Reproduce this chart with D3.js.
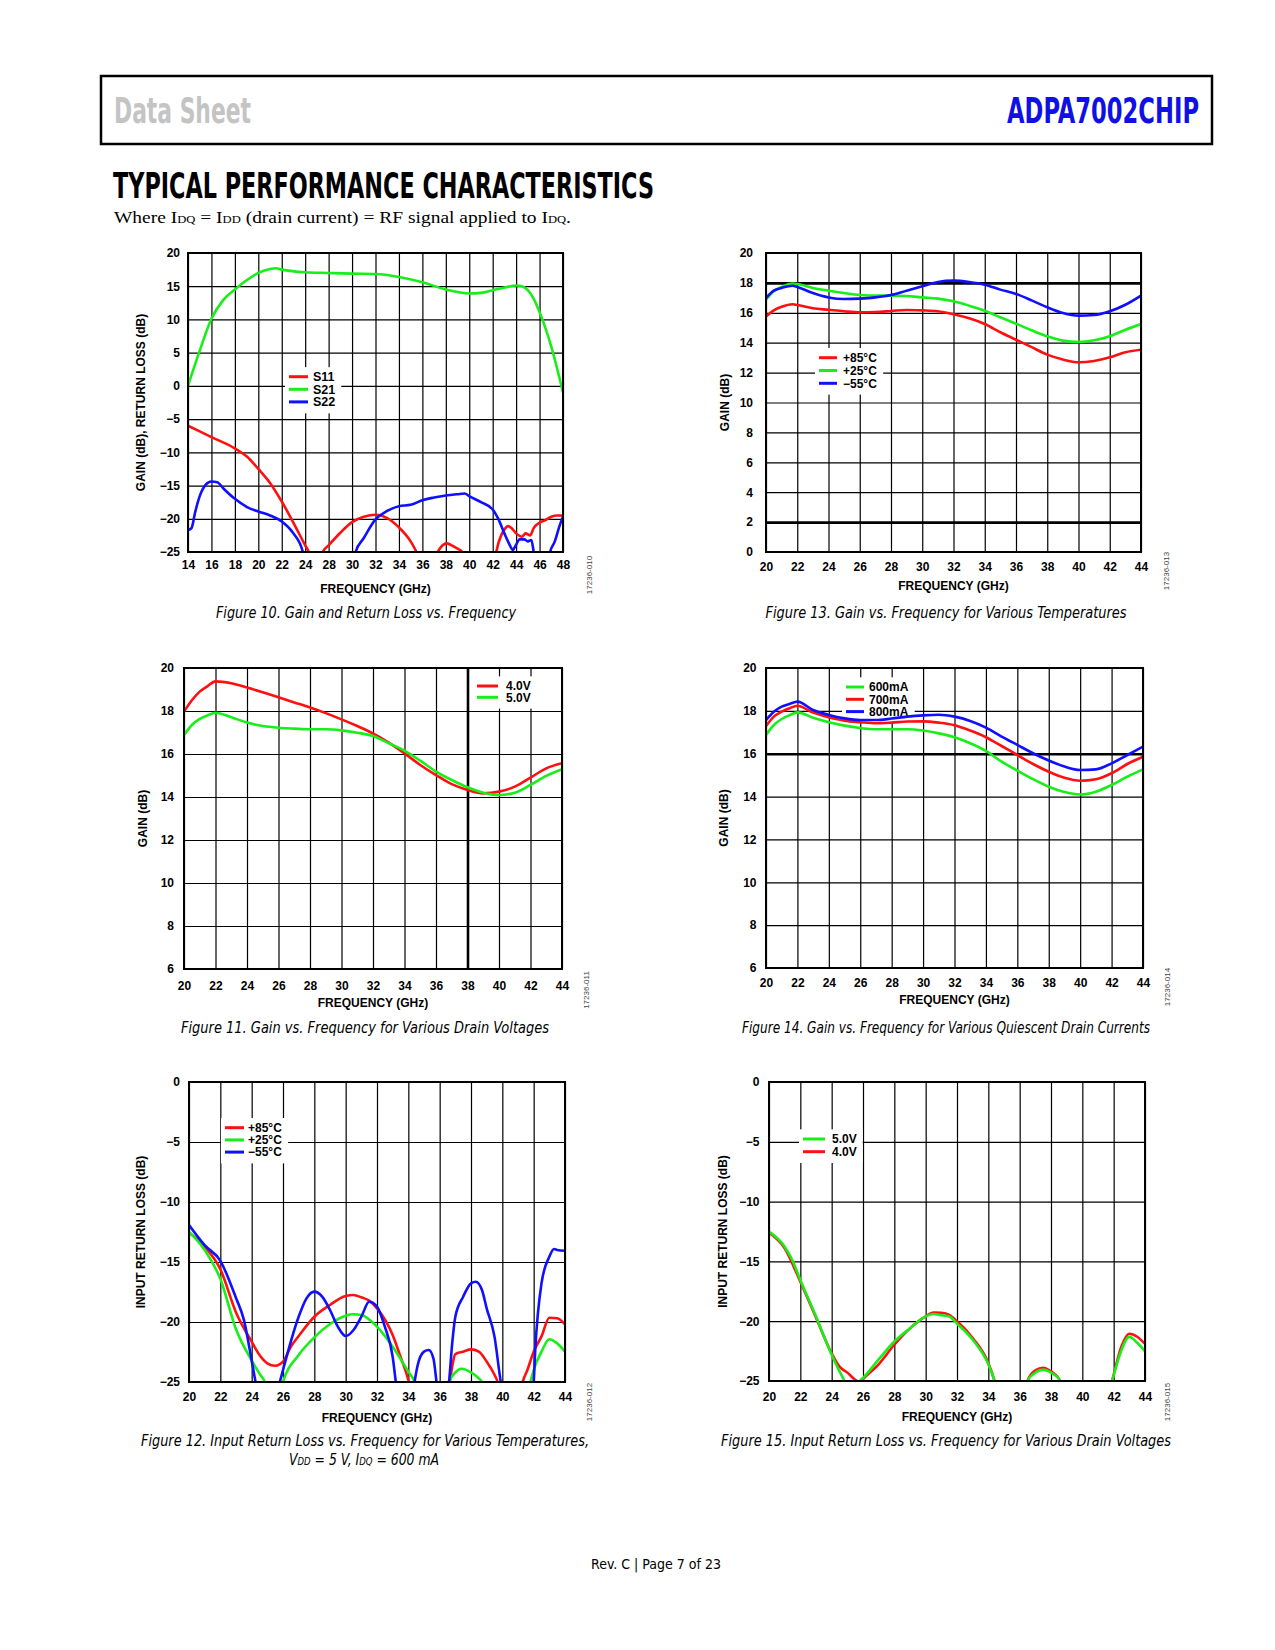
<!DOCTYPE html>
<html>
<head>
<meta charset="utf-8">
<script src="https://cdn.jsdelivr.net/npm/d3@7"></script>
<style>
	body { margin: 0; background: #fff; }
</style>
</head>
<body>
<svg id="page" width="1275" height="1650"></svg>
<script>
// ---- Figure 10: gain and return loss, 14 to 48 GHz (x labels skip 26 like the original)
const f10XTicks = [14, 16, 18, 20, 22, 24, 28, 30, 32, 34, 36, 38, 40, 42, 44, 46, 48]
const f10YTicks = [20, 15, 10, 5, 0, -5, -10, -15, -20, -25]
const f10S11 = [[14, -6.0], [16, -7.7], [18, -9.4], [19, -10.6], [20, -12.5], [21, -14.6], [22, -17.4], [23, -20.6], [24, -24.0], [24.6, -25], [25.3, -28], [26.4, -28], [27, -25], [28, -24.0], [29, -22.1], [30, -20.5], [31, -19.7], [32, -19.4], [33, -19.9], [34, -21.3], [35, -23.4], [35.5, -25], [36, -27], [36.8, -27], [37.3, -25], [38.1, -23.7], [38.6, -24.1], [39, -24.5], [39.4, -25], [39.8, -27], [41.8, -27], [42.3, -25], [42.5, -23.6], [43, -21.6], [43.3, -21.1], [43.6, -21.4], [44, -22.2], [44.5, -22.7], [44.8, -22.2], [45.2, -22.5], [45.5, -21.4], [46, -20.6], [46.5, -20.2], [47, -19.7], [47.5, -19.5], [48, -19.5]]
const f10S21 = [[14, 0], [15, 5.3], [16, 10.1], [17, 12.9], [18, 14.5], [19, 15.9], [20, 17.0], [21, 17.6], [21.5, 17.7], [22, 17.5], [24, 17.1], [28, 17.0], [30, 16.9], [32, 16.85], [34, 16.4], [36, 15.6], [38, 14.5], [40, 13.9], [41, 14.0], [42, 14.4], [43, 14.8], [44, 15.1], [44.5, 15.0], [45, 14.4], [45.5, 13.1], [46, 11.1], [47, 5.9], [48, -1.0]]
const f10S22 = [[14, -21.7], [14.3, -21.4], [14.6, -19.1], [15, -16.6], [15.5, -14.9], [16, -14.4], [16.5, -14.5], [17, -15.4], [18, -17.0], [19, -18.2], [20, -18.9], [21, -19.5], [22, -20.4], [23, -22.2], [23.8, -25], [24.3, -28], [30, -28], [30.3, -25], [31, -22.9], [32, -20.1], [33, -18.8], [34, -18.1], [35, -17.9], [36, -17.2], [37, -16.8], [38, -16.5], [39, -16.3], [39.6, -16.2], [40, -16.6], [41, -17.5], [42, -18.6], [42.5, -20.1], [43, -22.2], [43.5, -24.1], [43.7, -24.7], [44, -23.9], [44.3, -23.1], [44.7, -23.1], [45, -23.4], [45.3, -23.2], [45.5, -25], [45.8, -28], [46.6, -28], [46.9, -25], [47.3, -23.4], [47.7, -21.1], [48, -19.7]]

// ---- shared 20 to 44 GHz axis
const gainXTicks = [20, 22, 24, 26, 28, 30, 32, 34, 36, 38, 40, 42, 44]

// ---- Figure 13: gain vs temperature
const f13YTicks = [0, 2, 4, 6, 8, 10, 12, 14, 16, 18, 20]
const f13Freq = [20, 20.5, 21, 21.7, 22, 23, 24, 25, 26, 27, 28, 29, 30, 31, 32, 33, 34, 35, 36, 37, 38, 39, 40, 41, 42, 43, 44]
const f13Hot = [15.76, 16.16, 16.4, 16.57, 16.52, 16.3, 16.2, 16.1, 16.03, 16.05, 16.12, 16.19, 16.16, 16.1, 15.9, 15.63, 15.25, 14.7, 14.2, 13.7, 13.2, 12.87, 12.69, 12.78, 13.02, 13.36, 13.53]
const f13Room = [16.88, 17.44, 17.73, 17.95, 17.93, 17.66, 17.48, 17.32, 17.19, 17.15, 17.15, 17.12, 17.03, 16.95, 16.77, 16.48, 16.14, 15.7, 15.27, 14.83, 14.43, 14.14, 14.05, 14.16, 14.43, 14.87, 15.25]
const f13Cold = [16.99, 17.48, 17.66, 17.81, 17.73, 17.32, 17.03, 16.92, 16.95, 17.03, 17.19, 17.48, 17.77, 18.06, 18.15, 18.06, 17.88, 17.55, 17.26, 16.83, 16.37, 15.99, 15.81, 15.85, 16.1, 16.54, 17.15]

// ---- Figure 11: gain vs drain voltage
const gain6YTicks = [6, 8, 10, 12, 14, 16, 18, 20]
const f11Freq = [20, 20.5, 21, 21.5, 22, 23, 24, 25, 26, 27, 28, 29, 30, 31, 32, 33, 34, 35, 36, 37, 38, 39, 40, 41, 42, 43, 44]
const f11V4 = [17.97, 18.5, 18.9, 19.16, 19.38, 19.29, 19.09, 18.87, 18.64, 18.4, 18.16, 17.9, 17.61, 17.3, 16.96, 16.53, 16.03, 15.49, 15.02, 14.6, 14.33, 14.17, 14.25, 14.48, 14.9, 15.33, 15.57]
const f11V5 = [16.88, 17.35, 17.63, 17.8, 17.92, 17.71, 17.46, 17.3, 17.22, 17.18, 17.15, 17.15, 17.1, 16.99, 16.84, 16.5, 16.16, 15.69, 15.18, 14.79, 14.45, 14.2, 14.09, 14.2, 14.56, 14.98, 15.29]

// ---- Figure 14: gain vs quiescent drain current
const f14Freq = [20, 20.5, 21, 21.5, 22, 23, 24, 25, 26, 27, 28, 29, 30, 31, 32, 33, 34, 35, 36, 37, 38, 39, 40, 41, 42, 43, 44]
const f14I600 = [16.87, 17.34, 17.62, 17.8, 17.93, 17.68, 17.47, 17.31, 17.2, 17.14, 17.14, 17.14, 17.08, 16.95, 16.77, 16.49, 16.13, 15.63, 15.21, 14.81, 14.46, 14.21, 14.1, 14.23, 14.54, 14.93, 15.27]
const f14I700 = [17.29, 17.73, 17.96, 18.12, 18.24, 17.92, 17.7, 17.54, 17.47, 17.42, 17.45, 17.5, 17.51, 17.45, 17.33, 17.08, 16.77, 16.36, 15.94, 15.52, 15.16, 14.88, 14.74, 14.81, 15.09, 15.52, 15.86]
const f14I800 = [17.57, 17.96, 18.2, 18.32, 18.43, 18.04, 17.81, 17.65, 17.57, 17.57, 17.64, 17.73, 17.79, 17.82, 17.73, 17.53, 17.22, 16.8, 16.41, 16.02, 15.68, 15.4, 15.24, 15.27, 15.55, 15.94, 16.33]

// ---- Figures 12 and 15: input return loss
const rlYTicks = [0, -5, -10, -15, -20, -25]
const f12Hot = [[20, -12.56], [21, -13.72], [22, -15.6], [23, -19.2], [24, -21.64], [24.5, -22.75], [25, -23.44], [25.5, -23.64], [26, -23.3], [26.5, -22.06], [27, -21.17], [28, -19.56], [29, -18.58], [30, -17.83], [30.5, -17.75], [31, -17.94], [31.5, -18.22], [32, -18.86], [33, -21.08], [33.5, -22.9], [34, -24.83], [34.2, -26], [34.8, -28], [36.2, -28], [36.65, -25], [36.8, -23.7], [37, -22.67], [37.5, -22.47], [38, -22.28], [38.5, -22.47], [39, -23.3], [39.5, -24.4], [39.7, -25], [40, -27], [41, -27], [41.3, -25], [41.6, -24], [42, -22.47], [42.5, -21.2], [43, -19.64], [43.5, -19.69], [44, -20.19]]
const f12Room = [[20, -12.47], [21, -14.0], [22, -16.4], [23, -20.6], [24, -23.2], [24.5, -24.3], [24.85, -25], [25.3, -26.5], [25.7, -26.5], [26, -25], [27, -22.75], [28, -21.28], [29, -20.17], [30, -19.47], [30.5, -19.36], [31, -19.42], [32, -20.39], [33, -22.06], [34, -24.14], [34.4, -25], [34.8, -27], [36.2, -27], [36.6, -25], [37, -24.2], [37.4, -23.9], [38, -24.2], [38.5, -24.7], [38.7, -25], [39.1, -27], [41.4, -27], [41.8, -25], [42, -24], [42.5, -22.47], [43, -21.44], [43.5, -21.78], [44, -22.47]]
const f12Cold = [[20, -11.92], [21, -13.6], [22, -14.9], [23, -18.0], [23.5, -19.8], [24, -23.2], [24.25, -25], [24.6, -27], [25.5, -27], [25.8, -25], [26, -24], [27, -19.56], [27.5, -18.03], [28, -17.47], [28.5, -17.89], [29, -19], [29.5, -20.39], [30, -21.17], [30.5, -20.67], [31, -19.56], [31.5, -18.31], [32, -18.72], [32.5, -20.39], [33, -22.9], [33.2, -25], [33.4, -27], [34.2, -27], [34.4, -25], [34.6, -23.58], [35, -22.47], [35.3, -22.33], [35.6, -23.03], [35.8, -25], [36, -27], [36.4, -27], [36.6, -25], [36.8, -21.78], [37, -19.56], [37.5, -17.89], [38, -16.78], [38.3, -16.64], [38.7, -17.33], [39, -18.86], [39.5, -21.22], [39.9, -25], [40.2, -27], [41.7, -27], [42, -25], [42.1, -22.33], [42.5, -16.78], [43, -14.56], [43.3, -13.92], [43.5, -14], [44, -14.06]]
const f15V5 = [[20, -12.51], [21, -13.77], [21.5, -14.93], [22, -16.55], [23, -19.6], [24, -22.8], [24.5, -24.2], [24.8, -25], [25.1, -26.5], [25.5, -26.5], [25.8, -25], [26, -24.75], [27, -23.2], [28, -21.7], [29, -20.6], [30, -19.6], [30.5, -19.4], [31, -19.5], [31.5, -19.6], [32, -20.2], [33, -21.55], [34, -23.6], [34.4, -25], [34.8, -27], [36.1, -27], [36.5, -25], [37, -24.3], [37.5, -24.05], [38, -24.3], [38.6, -25], [39, -27], [41.5, -27], [41.9, -25], [42.5, -22.4], [43, -21.3], [43.5, -21.8], [44, -22.5]]
const f15V4 = [[20, -12.6], [21, -13.9], [22, -16.7], [23, -19.7], [24, -22.7], [24.5, -23.8], [25, -24.3], [25.5, -24.9], [25.6, -25], [25.75, -25.5], [25.9, -25], [26, -24.85], [27, -23.6], [28, -21.97], [29, -20.6], [30, -19.6], [30.5, -19.27], [31, -19.3], [31.5, -19.47], [32, -20.0], [33, -21.4], [34, -23.5], [34.4, -25], [34.8, -27], [36.1, -27], [36.5, -25], [37, -24.1], [37.5, -23.9], [38, -24.2], [38.6, -25], [39, -27], [41.5, -27], [41.9, -25], [42.5, -22.1], [43, -21.05], [43.5, -21.3], [44, -21.9]]

const RED = '#ff1010'
const GREEN = '#18ee18'
const BLUE = '#1010ff'

const FONT = '"Liberation Sans", Arial, Helvetica, sans-serif'
const NARROW = '"Liberation Sans Narrow", "DejaVu Sans Condensed", "Liberation Sans", sans-serif'
const SERIF = '"Liberation Serif", "DejaVu Serif", serif'

const page = d3.select('#page')

function fitText(sel, width) {
	return sel.attr('textLength', width).attr('lengthAdjust', 'spacingAndGlyphs')
}

function drawChart(c, i) {
	const [x0, y0, x1, y1] = c.box
	const g = page.append('g')
		.attr('font-family', FONT)
		.attr('font-weight', 'bold')
		.attr('font-size', 12)

	const x = c.xScale || d3.scaleLinear().domain([20, 44]).range([x0, x1])
	const y = d3.scaleLinear().domain(c.yDomain).range([y1, y0])

	g.append('clipPath').attr('id', 'clip' + i)
		.append('rect')
		.attr('x', x0).attr('y', y0)
		.attr('width', x1 - x0).attr('height', y1 - y0)

	// grid comes from the axes' own tick lines
	const xAxis = g.append('g')
		.attr('transform', `translate(0,${y1})`)
		.call(d3.axisBottom(x).tickValues(c.xTicks).tickSize(-(y1 - y0)).tickPadding(c.xPad).tickFormat(d3.format('d')))
	const yAxis = g.append('g')
		.attr('transform', `translate(${x0},0)`)
		.call(d3.axisLeft(y).tickValues(c.yTicks).tickSize(-(x1 - x0)).tickPadding(c.yPad).tickFormat(d3.format('d')))

	;[xAxis, yAxis].forEach(a => {
		a.attr('font-family', null).attr('font-size', null)
		a.select('.domain').remove()
		a.selectAll('.tick text').attr('fill', '#000')
	})
	xAxis.selectAll('.tick line')
		.attr('stroke', '#000')
		.attr('stroke-width', d => (c.thickX || []).includes(d) ? 2.6 : 1.2)
	yAxis.selectAll('.tick line')
		.attr('stroke', '#000')
		.attr('stroke-width', d => (c.thickY || []).includes(d) ? 2.6 : 1.2)

	// legend with a white box that breaks the grid
	const lg = c.legend
	const legend = g.append('g').attr('font-size', lg.size || 12)
	const rows = legend.selectAll('g').data(lg.items).join('g')
		.attr('transform', (d, k) => `translate(0,${lg.y + k * lg.step})`)
	rows.append('line')
		.attr('x1', lg.x0).attr('x2', lg.x1)
		.attr('stroke', d => d.color).attr('stroke-width', 3)
	rows.append('text')
		.attr('x', lg.tx).attr('dy', '0.36em')
		.text(d => d.label)
	const bb = legend.node().getBBox()
	legend.insert('rect', ':first-child')
		.attr('x', bb.x - 4).attr('y', bb.y - 3)
		.attr('width', bb.width + 10).attr('height', bb.height + 7)
		.attr('fill', '#fff')

	const line = d3.line()
		.x(d => x(d[0]))
		.y(d => y(d[1]))
		.curve(d3.curveMonotoneX)

	g.append('g')
		.attr('clip-path', `url(#clip${i})`)
		.selectAll('path')
		.data(c.series)
		.join('path')
		.attr('d', s => line(s.points))
		.attr('fill', 'none')
		.attr('stroke', s => s.color)
		.attr('stroke-width', 2.6)
		.attr('stroke-linejoin', 'round')

	g.append('rect')
		.attr('x', x0).attr('y', y0)
		.attr('width', x1 - x0).attr('height', y1 - y0)
		.attr('fill', 'none').attr('stroke', '#000').attr('stroke-width', 2)

	g.append('text')
		.attr('x', (x0 + x1) / 2).attr('y', c.xTitleY)
		.attr('text-anchor', 'middle')
		.text('FREQUENCY (GHz)')

	g.append('text')
		.attr('transform', `translate(${c.yTitleX},${(y0 + y1) / 2}) rotate(-90)`)
		.attr('text-anchor', 'middle').attr('dy', '0.35em')
		.text(c.yTitle)

	g.append('text')
		.attr('transform', `translate(${c.idX},${c.idY}) rotate(-90)`)
		.attr('text-anchor', 'middle').attr('dy', '0.35em')
		.attr('font-size', 8).attr('font-weight', 'normal').attr('fill', '#444')
		.text(c.id)
}

const zipPts = (f, v) => d3.zip(f, v)

const charts = [
	{
		box: [188, 253, 563, 552],
		xScale: d3.scaleLinear().domain([14, 24, 28, 48]).range([188, 188 + 5 * 375 / 16, 188 + 6 * 375 / 16, 563]),
		xTicks: f10XTicks, yDomain: [-25, 20], yTicks: f10YTicks,
		xPad: 8, yPad: 8, xTitleY: 593, yTitleX: 141, yTitle: 'GAIN (dB), RETURN LOSS (dB)',
		id: '17236-010', idX: 589, idY: 575,
		series: [
			{ color: RED, points: f10S11 },
			{ color: GREEN, points: f10S21 },
			{ color: BLUE, points: f10S22 },
		],
		legend: {
			x0: 289, x1: 308, tx: 313, y: 376.7, step: 12.6, size: 12.5,
			items: [{ label: 'S11', color: RED }, { label: 'S21', color: GREEN }, { label: 'S22', color: BLUE }],
		},
	},
	{
		box: [766, 253, 1141, 552],
		xTicks: gainXTicks, yDomain: [0, 20], yTicks: f13YTicks, thickY: [18, 2],
		xPad: 10.5, yPad: 13, xTitleY: 590, yTitleX: 725, yTitle: 'GAIN (dB)',
		id: '17236-013', idX: 1166, idY: 571,
		series: [
			{ color: RED, points: zipPts(f13Freq, f13Hot) },
			{ color: GREEN, points: zipPts(f13Freq, f13Room) },
			{ color: BLUE, points: zipPts(f13Freq, f13Cold) },
		],
		legend: {
			x0: 819, x1: 837, tx: 843, y: 357.7, step: 12.8,
			items: [{ label: '+85°C', color: RED }, { label: '+25°C', color: GREEN }, { label: '\u221255°C', color: BLUE }],
		},
	},
	{
		box: [184, 668, 562, 969],
		xTicks: gainXTicks, yDomain: [6, 20], yTicks: gain6YTicks, thickX: [38],
		xPad: 12, yPad: 10, xTitleY: 1007, yTitleX: 143, yTitle: 'GAIN (dB)',
		id: '17236-011', idX: 586, idY: 990,
		series: [
			{ color: RED, points: zipPts(f11Freq, f11V4) },
			{ color: GREEN, points: zipPts(f11Freq, f11V5) },
		],
		legend: {
			x0: 477, x1: 498, tx: 506, y: 686, step: 11.3,
			items: [{ label: '4.0V', color: RED }, { label: '5.0V', color: GREEN }],
		},
	},
	{
		box: [766, 668, 1143, 968],
		xTicks: gainXTicks, yDomain: [6, 20], yTicks: gain6YTicks, thickY: [16],
		xPad: 10, yPad: 9.5, xTitleY: 1004, yTitleX: 724, yTitle: 'GAIN (dB)',
		id: '17236-014', idX: 1167, idY: 987,
		series: [
			{ color: GREEN, points: zipPts(f14Freq, f14I600) },
			{ color: RED, points: zipPts(f14Freq, f14I700) },
			{ color: BLUE, points: zipPts(f14Freq, f14I800) },
		],
		legend: {
			x0: 846, x1: 864, tx: 869, y: 687, step: 12.3,
			items: [{ label: '600mA', color: GREEN }, { label: '700mA', color: RED }, { label: '800mA', color: BLUE }],
		},
	},
	{
		box: [189, 1082, 565, 1382],
		xTicks: gainXTicks, yDomain: [-25, 0], yTicks: rlYTicks,
		xPad: 10.5, yPad: 9, xTitleY: 1422, yTitleX: 141, yTitle: 'INPUT RETURN LOSS (dB)',
		id: '17236-012', idX: 589, idY: 1402,
		series: [
			{ color: RED, points: f12Hot },
			{ color: GREEN, points: f12Room },
			{ color: BLUE, points: f12Cold },
		],
		legend: {
			x0: 225, x1: 244, tx: 248, y: 1127.7, step: 12.2,
			items: [{ label: '+85°C', color: RED }, { label: '+25°C', color: GREEN }, { label: '\u221255°C', color: BLUE }],
		},
	},
	{
		box: [769, 1082, 1145, 1381],
		xTicks: gainXTicks, yDomain: [-25, 0], yTicks: rlYTicks,
		xPad: 11.5, yPad: 9.5, xTitleY: 1421, yTitleX: 723, yTitle: 'INPUT RETURN LOSS (dB)',
		id: '17236-015', idX: 1167, idY: 1402,
		series: [
			{ color: RED, points: f15V4 },
			{ color: GREEN, points: f15V5 },
		],
		legend: {
			x0: 803, x1: 825, tx: 832, y: 1139, step: 12.7,
			items: [{ label: '5.0V', color: GREEN }, { label: '4.0V', color: RED }],
		},
	},
]

charts.forEach(drawChart)

// ---- page header
page.append('rect')
	.attr('x', 101).attr('y', 76).attr('width', 1111).attr('height', 68)
	.attr('fill', 'none').attr('stroke', '#000').attr('stroke-width', 2.5)

fitText(page.append('text')
	.attr('x', 114).attr('y', 123)
	.attr('font-family', NARROW).attr('font-weight', 'bold').attr('font-size', 35)
	.attr('fill', '#c4c4c4')
	.text('Data Sheet'), 137)

fitText(page.append('text')
	.attr('x', 1199).attr('y', 123)
	.attr('text-anchor', 'end')
	.attr('font-family', NARROW).attr('font-weight', 'bold').attr('font-size', 35)
	.attr('fill', '#1010e6')
	.text('ADPA7002CHIP'), 192)

fitText(page.append('text')
	.attr('x', 113).attr('y', 198)
	.attr('font-family', NARROW).attr('font-weight', 'bold').attr('font-size', 35)
	.attr('fill', '#000')
	.text('TYPICAL PERFORMANCE CHARACTERISTICS'), 541)

const sub = page.append('text')
	.attr('x', 114).attr('y', 223)
	.attr('font-family', SERIF).attr('font-size', 17).attr('fill', '#000')
const subParts = [['Where I', 0], ['DQ', 1], [' = I', 0], ['DD', 1], [' (drain current) = RF signal applied to I', 0], ['DQ', 1], ['.', 0]]
subParts.forEach(([t, s]) => sub.append('tspan').attr('font-size', s ? 11 : null).text(t))
fitText(sub, 457)

// ---- captions
const captions = [
	{ text: 'Figure 10. Gain and Return Loss vs. Frequency', x: 366, y: 618, w: 300 },
	{ text: 'Figure 13. Gain vs. Frequency for Various Temperatures', x: 946, y: 618, w: 361 },
	{ text: 'Figure 11. Gain vs. Frequency for Various Drain Voltages', x: 365, y: 1033, w: 368 },
	{ text: 'Figure 14. Gain vs. Frequency for Various Quiescent Drain Currents', x: 946, y: 1033, w: 408 },
	{ text: 'Figure 12. Input Return Loss vs. Frequency for Various Temperatures,', x: 365, y: 1446, w: 448 },
	{ text: 'Figure 15. Input Return Loss vs. Frequency for Various Drain Voltages', x: 946, y: 1446, w: 450 },
]
captions.forEach(cp => {
	fitText(page.append('text')
		.attr('x', cp.x).attr('y', cp.y)
		.attr('text-anchor', 'middle')
		.attr('font-family', NARROW).attr('font-style', 'italic').attr('font-size', 16)
		.attr('fill', '#000')
		.text(cp.text), cp.w)
})

const cap2 = page.append('text')
	.attr('x', 364).attr('y', 1465)
	.attr('text-anchor', 'middle')
	.attr('font-family', NARROW).attr('font-style', 'italic').attr('font-size', 16)
	.attr('fill', '#000')
const cap2Parts = [['V', 0], ['DD', 1], [' = 5 V, I', 0], ['DQ', 1], [' = 600 mA', 0]]
cap2Parts.forEach(([t, s]) => cap2.append('tspan').attr('font-size', s ? 11 : null).text(t))
fitText(cap2, 150)

fitText(page.append('text')
	.attr('x', 656).attr('y', 1569)
	.attr('text-anchor', 'middle')
	.attr('font-family', NARROW).attr('font-size', 14)
	.attr('fill', '#000')
	.text('Rev. C | Page 7 of 23'), 130)
</script>
</body>
</html>
